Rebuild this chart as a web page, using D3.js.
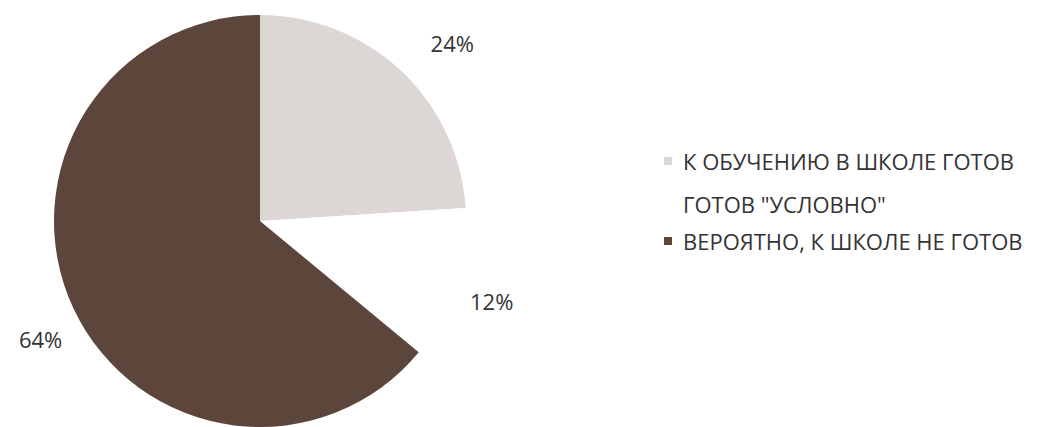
<!DOCTYPE html>
<html>
<head>
<meta charset="utf-8">
<script src="https://cdn.jsdelivr.net/npm/d3@7"></script>
<style>
  body { margin: 0; background: #fff; }
  text { font-family: "Open Sans", "Noto Sans", sans-serif; fill: #333; }
</style>
</head>
<body>
<svg id="chart" width="1045" height="427"></svg>
<script>
const categories = ['К ОБУЧЕНИЮ В ШКОЛЕ ГОТОВ', 'ГОТОВ "УСЛОВНО"', 'ВЕРОЯТНО, К ШКОЛЕ НЕ ГОТОВ'];
const values = [24, 12, 64];
const labels = ['24%', '12%', '64%'];
const colors = ['#dcd6d5', '#ffffff', '#5c463c'];

const svg = d3.select('#chart');
const cx = 260, cy = 221, r = 206;

const pie = d3.pie().sort(null).value(d => d.v);
const arcs = pie(values.map((v, i) => ({ v, i })));
const arc = d3.arc().innerRadius(0).outerRadius(r);

const g = svg.append('g').attr('transform', `translate(${cx},${cy})`);

g.selectAll('path')
    .data(arcs)
    .join('path')
    .attr('d', arc)
    .attr('fill', d => colors[d.data.i]);

// Excel "best fit" nudges the labels off the slice middle a bit
const labelNudge = [{ a: 4, dr: 56 }, { a: 1, dr: 39 }, { a: -3, dr: 43 }];
g.selectAll('text.lbl')
    .data(arcs)
    .join('text')
    .attr('class', 'lbl')
    .attr('transform', d => {
        const n = labelNudge[d.data.i];
        const a = (d.startAngle + d.endAngle) / 2 + n.a * Math.PI / 180;
        const rr = r + n.dr;
        return `translate(${rr * Math.sin(a)},${-rr * Math.cos(a)})`;
    })
    .attr('text-anchor', 'middle')
    .attr('dominant-baseline', 'central')
    .style('font-size', '22px')
    .text(d => labels[d.data.i]);

// legend
const legendY = d3.scalePoint().domain(categories).range([161, 241]);
const item = svg.append('g').selectAll('g')
    .data(categories)
    .join('g')
    .attr('transform', (d, i) => `translate(664,${legendY(d) + (i === 1 ? 3 : 0)})`);

item.append('rect')
    .attr('x', 0).attr('y', -4)
    .attr('width', 8).attr('height', 8)
    .attr('fill', (d, i) => colors[i]);

item.append('text')
    .attr('x', 19)
    .attr('dominant-baseline', 'central')
    .style('font-size', '22px')
    .text(d => d);
</script>
</body>
</html>
